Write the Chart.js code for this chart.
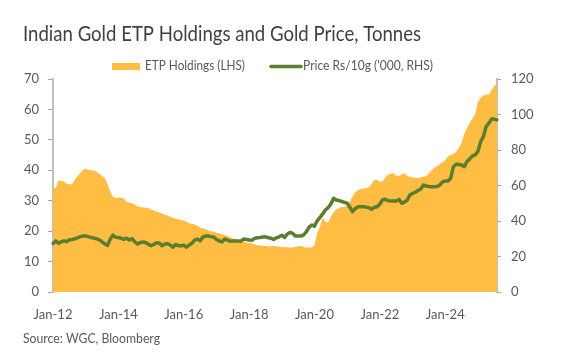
<!DOCTYPE html>
<html>
<head>
<meta charset="utf-8">
<script src="https://cdn.jsdelivr.net/npm/chart.js@4.4.1/dist/chart.umd.min.js"></script>
<style>
  html, body { margin: 0; padding: 0; background: #ffffff; }
  #wrap { position: relative; width: 578px; height: 356px; }
  canvas { display: block; }
</style>
</head>
<body>
<div id="wrap"><canvas id="c" width="578" height="356"></canvas></div>
<script>
// ---- Data (monthly, Jan-2012 .. Aug-2025) ----
const titleText = "Indian Gold ETP Holdings and Gold Price, Tonnes";
const sourceText = "Source: WGC, Bloomberg";
const seriesNames = ["ETP Holdings (LHS)", "Price Rs/10g ('000, RHS)"];
const monthNames = ["Jan","Feb","Mar","Apr","May","Jun","Jul","Aug","Sep","Oct","Nov","Dec"];
const startYear = 2012;
const tickLabels = ["Jan-12","Jan-14","Jan-16","Jan-18","Jan-20","Jan-22","Jan-24"];

// ETP holdings, tonnes (left axis)
const etpHoldings = [
  34.1, 34.3, 36.6, 36.6, 36.3, 35.6, 35.4, 35.4, 37.0, 38.0, 39.0, 40.2,
  40.6, 40.0, 40.1, 39.9, 39.5, 38.8, 38.2, 37.4, 35.5, 33.0, 31.3, 31.0,
  31.0, 31.0, 30.8, 29.7, 29.3, 29.2, 28.7, 28.2, 27.9, 27.8, 27.7, 27.6,
  27.1, 26.8, 26.4, 26.1, 25.8, 25.4, 25.1, 24.7, 24.4, 24.1, 23.9, 23.7,
  23.4, 23.1, 22.6, 22.4, 22.2, 21.8, 21.2, 20.9, 20.6, 20.3, 20.0, 19.8,
  19.5, 19.3, 19.0, 18.7, 18.4, 18.0, 17.6, 17.3, 17.0, 16.8, 16.6, 16.3,
  16.1, 16.0, 15.7, 15.4, 15.3, 15.2, 15.1, 15.0, 15.0, 15.1, 15.0, 14.9,
  14.8, 14.7, 14.7, 14.6, 14.6, 14.9, 15.0, 15.1, 14.8, 14.6, 14.6, 14.6,
  15.4, 19.5, 21.4, 24.5, 23.0, 22.8, 24.7, 26.2, 27.2, 27.5, 28.0, 28.0,
  28.3, 29.7, 31.5, 32.8, 33.6, 33.8, 34.1, 34.1, 34.4, 35.5, 37.0, 36.8,
  36.3, 36.3, 37.7, 38.5, 38.9, 39.0, 38.2, 38.2, 38.6, 39.0, 38.2, 37.9,
  37.7, 37.5, 37.5, 37.7, 37.9, 38.1, 39.0, 40.0, 40.8, 41.3, 42.0, 42.6,
  43.3, 44.5, 45.0, 45.4, 46.1, 47.3, 49.0, 52.0, 54.0, 55.5, 57.0, 58.5,
  62.5, 63.8, 64.5, 65.0, 64.8, 66.3, 67.7, 68.6
];

// Gold price, Rs/10g '000 (right axis)
const goldPrice = [
  27.3, 28.8, 27.5, 28.2, 28.8, 28.3, 29.4, 29.6, 30.0, 30.5, 31.2, 31.5,
  31.5, 31.2, 30.7, 30.4, 29.9, 29.4, 28.2, 27.2, 26.2, 29.8, 32.0, 30.8,
  30.7, 30.3, 29.7, 30.3, 29.3, 30.1, 28.3, 27.0, 27.8, 28.2, 27.9, 26.8,
  26.1, 26.8, 27.7, 27.6, 26.1, 26.9, 27.3, 26.5, 25.2, 26.8, 26.1, 26.0,
  26.4, 25.2, 26.5, 27.4, 29.2, 29.8, 28.8, 31.0, 31.5, 31.6, 31.2, 31.0,
  29.6, 28.8, 28.2, 29.8, 29.3, 28.6, 28.8, 28.8, 28.7, 28.6, 29.8, 29.6,
  29.3, 29.2, 30.2, 30.6, 30.7, 31.0, 31.1, 30.6, 30.3, 29.6, 30.5, 31.1,
  32.0, 30.7, 32.6, 33.6, 33.0, 31.5, 31.5, 31.5, 32.2, 33.9, 36.5, 37.7,
  37.1, 40.1, 42.0, 44.0, 46.2, 47.5, 49.5, 52.8, 51.8, 51.5, 51.0, 50.5,
  50.0, 47.7, 45.2, 47.1, 48.0, 48.0, 48.1, 47.8, 47.5, 46.7, 47.7, 48.0,
  49.6, 52.0, 52.2, 51.4, 51.2, 51.3, 51.2, 52.2, 50.0, 50.6, 51.8, 54.6,
  55.5, 56.2, 57.2, 58.0, 60.3, 59.7, 59.4, 59.3, 59.3, 59.4, 60.3, 62.0,
  62.5, 62.5, 64.1, 70.6, 72.0, 71.8, 71.5, 70.6, 73.5, 75.0, 76.7, 77.3,
  79.2, 84.7, 87.5, 93.2, 95.1, 97.4, 97.4, 97.0
];

// Category labels (one per month)
const categories = etpHoldings.map((_, i) => {
  const y = startYear + Math.floor(i / 12);
  return monthNames[i % 12] + "-" + String(y).slice(2);
});

// ---- Styling ----
const ORANGE = "#FFBD44";
const GREEN = "#5A7D2E";
const AXIS = "#BFBFBF";
const TICK = "#595959";
const FONT = "Lato, 'Open Sans', sans-serif";

const AREA = { left: 53, right: 497, top: 79, bottom: 292 };
const W = 578, H = 356;

const overlay = {
  id: "overlay",
  afterDraw(chart) {
    const ctx = chart.ctx;
    ctx.save();
    ctx.textAlign = "left";
    ctx.textBaseline = "alphabetic";
    // Title
    ctx.fillStyle = "#404040";
    ctx.font = "21px " + FONT;
    ctx.fillText(titleText, 23, 41, 398);
    // Legend
    ctx.fillStyle = ORANGE;
    ctx.fillRect(112, 63, 28, 7);
    ctx.fillStyle = TICK;
    ctx.font = "13px " + FONT;
    ctx.fillText(seriesNames[0], 145, 70, 100);
    ctx.strokeStyle = GREEN;
    ctx.lineWidth = 3.5;
    ctx.lineCap = "round";
    ctx.beginPath();
    ctx.moveTo(271, 66.5);
    ctx.lineTo(301, 66.5);
    ctx.stroke();
    ctx.fillStyle = TICK;
    ctx.fillText(seriesNames[1], 303, 70, 130);
    // Source
    ctx.font = "13px " + FONT;
    ctx.fillText(sourceText, 23, 343, 137);
    ctx.restore();
  }
};

new Chart(document.getElementById("c"), {
  type: "line",
  data: {
    labels: categories,
    datasets: [
      {
        label: seriesNames[1],
        data: goldPrice,
        yAxisID: "y1",
        borderColor: GREEN,
        backgroundColor: GREEN,
        borderWidth: 3.5,
        pointRadius: 0,
        tension: 0,
        fill: false,
        order: 0,
        borderJoinStyle: "round",
        borderCapStyle: "round"
      },
      {
        label: seriesNames[0],
        data: etpHoldings,
        yAxisID: "y",
        borderColor: ORANGE,
        backgroundColor: ORANGE,
        borderWidth: 0,
        pointRadius: 0,
        tension: 0,
        fill: "origin",
        order: 1
      }
    ]
  },
  options: {
    responsive: false,
    animation: false,
    devicePixelRatio: 1,
    layout: { padding: { top: AREA.top, left: 0, right: 0, bottom: 0 } },
    plugins: {
      legend: { display: false },
      title: { display: false },
      tooltip: { enabled: false }
    },
    scales: {
      x: {
        type: "category",
        offset: false,
        grid: { display: false },
        border: { display: false },
        afterBuildTicks(scale) {
          scale.ticks = scale.ticks.filter(t => tickLabels.includes(categories[t.value]));
        },
        afterFit(scale) { scale.height = H - AREA.bottom; },
        ticks: {
          autoSkip: false,
          maxRotation: 0,
          minRotation: 0,
          padding: 7,
          color: TICK,
          font: { family: FONT, size: 13 }
        }
      },
      y: {
        position: "left",
        min: 0,
        max: 70,
        afterFit(scale) { scale.width = AREA.left; },
        grid: { drawOnChartArea: false, drawTicks: true, tickLength: 5, color: "#A6A6A6", lineWidth: 1 },
        border: { display: true, color: AXIS, width: 2 },
        ticks: { stepSize: 10, padding: 9, color: TICK, font: { family: FONT, size: 13 } }
      },
      y1: {
        position: "right",
        min: 0,
        max: 120,
        afterFit(scale) { scale.width = W - AREA.right; },
        grid: { drawOnChartArea: false, drawTicks: true, tickLength: 4, color: "#A6A6A6", lineWidth: 1 },
        border: { display: true, color: AXIS, width: 2 },
        ticks: { stepSize: 20, padding: 10, color: TICK, font: { family: FONT, size: 13 } }
      }
    }
  },
  plugins: [overlay]
});
</script>
</body>
</html>
